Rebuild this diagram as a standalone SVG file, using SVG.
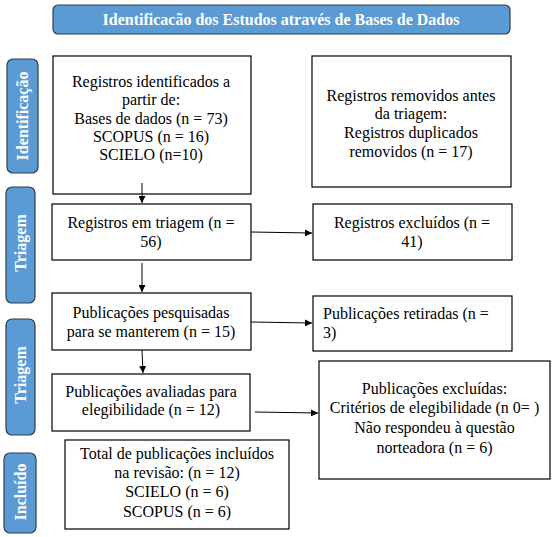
<svg xmlns="http://www.w3.org/2000/svg" width="554" height="537" viewBox="0 0 554 537">
<defs>
<style>
.box{fill:#fff;stroke:#000;stroke-width:1.2}
.tab{fill:#5b9bd5;stroke:#2f3d52;stroke-width:1.2}
.t{font-family:"Liberation Serif","Times New Roman",serif;font-size:16px;fill:#000;text-anchor:middle}
.tl{font-family:"Liberation Serif","Times New Roman",serif;font-size:16px;fill:#000}
.w{font-family:"Liberation Serif","Times New Roman",serif;font-weight:bold;font-size:16px;fill:#fff;text-anchor:middle}
.c{stroke:#000;stroke-width:1;fill:none;marker-end:url(#ah)}
</style>
<marker id="ah" viewBox="0 0 10 10" refX="10" refY="5" markerWidth="7" markerHeight="7" markerUnits="userSpaceOnUse" orient="auto">
<path d="M0,0 L10,5 L0,10 z" fill="#000"/>
</marker>
</defs>
<rect width="554" height="537" fill="#fff"/>
<g id="title">
<rect class="tab" x="53" y="5" width="457" height="29" rx="5"/>
<text class="w" x="281" y="25">Identificacão dos Estudos através de Bases de Dados</text>
</g>
<g id="tab-identificacao">
<rect class="tab" x="7" y="59" width="31" height="114" rx="6"/>
<text class="w" transform="translate(28,116) rotate(-90)">Identificação</text>
</g>
<g id="tab-triagem1">
<rect class="tab" x="6" y="187" width="29" height="116" rx="6"/>
<text class="w" transform="translate(26,243) rotate(-90)">Triagem</text>
</g>
<g id="tab-triagem2">
<rect class="tab" x="6" y="319" width="29" height="116" rx="6"/>
<text class="w" transform="translate(26,375) rotate(-90)">Triagem</text>
</g>
<g id="tab-incluido">
<rect class="tab" x="4" y="453" width="32" height="80" rx="6"/>
<text class="w" transform="translate(26,492) rotate(-90)">Incluído</text>
</g>
<g id="n-identificados">
<rect class="box" x="53" y="56" width="198" height="138"/>
<text class="t" x="151" y="87">Registros identificados a</text>
<text class="t" x="151" y="105">partir de:</text>
<text class="t" x="151" y="124">Bases de dados (n = 73)</text>
<text class="t" x="151" y="142">SCOPUS (n = 16)</text>
<text class="t" x="151" y="160">SCIELO (n=10)</text>
</g>
<g id="n-removidos">
<rect class="box" x="312" y="56" width="199" height="131"/>
<text class="t" x="411" y="101">Registros removidos antes</text>
<text class="t" x="411" y="119">da triagem:</text>
<text class="t" x="411" y="138">Registros duplicados</text>
<text class="t" x="411" y="157">removidos (n = 17)</text>
</g>
<g id="n-triagem">
<rect class="box" x="52" y="204" width="199" height="56"/>
<text class="t" x="151" y="228">Registros em triagem (n =</text>
<text class="t" x="151" y="247">56)</text>
</g>
<g id="n-excluidos">
<rect class="box" x="313" y="204" width="199" height="56"/>
<text class="t" x="412" y="228">Registros excluídos (n =</text>
<text class="t" x="412" y="247">41)</text>
</g>
<g id="n-pesquisadas">
<rect class="box" x="52" y="293" width="199" height="57"/>
<text class="t" x="151" y="318">Publicações pesquisadas</text>
<text class="t" x="151" y="337">para se manterem (n = 15)</text>
</g>
<g id="n-retiradas">
<rect class="box" x="313" y="296" width="199" height="55"/>
<text class="tl" x="323" y="319">Publicações retiradas (n =</text>
<text class="tl" x="323" y="338">3)</text>
</g>
<g id="n-avaliadas">
<rect class="box" x="52" y="374" width="198" height="57"/>
<text class="t" x="151" y="397">Publicações avaliadas para</text>
<text class="t" x="151" y="415">elegibilidade (n = 12)</text>
</g>
<g id="n-pub-excluidas">
<rect class="box" x="319" y="361" width="231" height="118"/>
<text class="t" x="434.5" y="394">Publicações excluídas:</text>
<text class="t" x="434.5" y="413">Critérios de elegibilidade (n 0= )</text>
<text class="t" x="434.5" y="433">Não respondeu à questão</text>
<text class="t" x="434.5" y="453">norteadora (n = 6)</text>
</g>
<g id="n-total">
<rect class="box" x="65" y="440" width="224" height="89"/>
<text class="t" x="177" y="459">Total de publicações incluídos</text>
<text class="t" x="177" y="478">na revisão: (n = 12)</text>
<text class="t" x="177" y="497">SCIELO (n = 6)</text>
<text class="t" x="177" y="517">SCOPUS (n = 6)</text>
</g>
<g id="connectors">
<line class="c" x1="142" y1="183" x2="142" y2="203"/>
<line class="c" x1="142" y1="263" x2="142" y2="292"/>
<line class="c" x1="142" y1="350" x2="143" y2="373"/>
<line class="c" x1="251" y1="232" x2="312" y2="233"/>
<line class="c" x1="251" y1="322" x2="312" y2="323"/>
<line class="c" x1="255" y1="412" x2="318" y2="413"/>
</g>
</svg>
